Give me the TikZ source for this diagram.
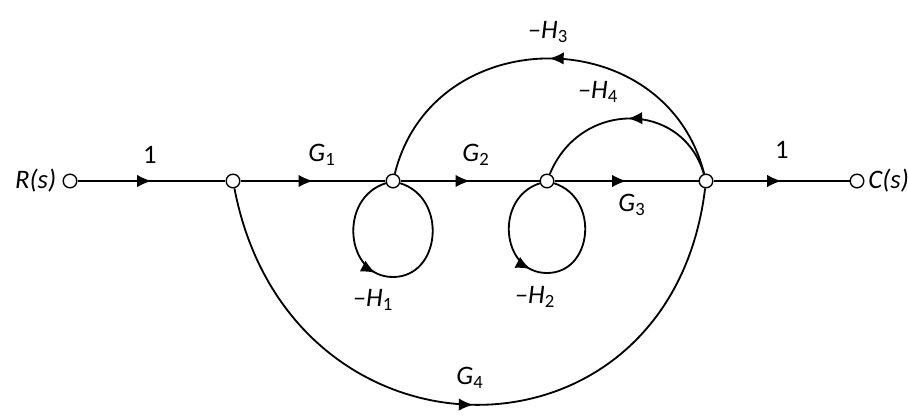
\documentclass[tikz,border=0pt]{standalone}
\usepackage{fontspec}
\setmainfont{Carlito}
\usetikzlibrary{positioning, arrows.meta, decorations.markings}

\newcommand{\gn}[2]{#1\textsubscript{\upshape #2}}

\begin{document}
\begin{tikzpicture}[x=0.025cm, y=-0.025cm, line width=1.3pt, node distance=1mm,
  flowtip/.tip={Latex[length=3.6mm,width=3.1mm]},
  pt/.style={draw,circle,fill=white,inner sep=0pt,minimum size=3.4mm,line width=1pt},
  gain/.style={font=\fontsize{19}{22}\selectfont\itshape,inner sep=1pt},
  mid/.style={postaction={decorate},decoration={markings,mark=at position #1 with {\arrow{flowtip}}}},
  mid/.default=0.5]
  \useasboundingbox (0,0) rectangle (908,415);
  % nodes of the graph
  \node[pt] (rin) at (70,181) {};
  \node[pt] (n1) at (233,181) {};
  \node[pt] (n2) at (393,181) {};
  \node[pt] (n3) at (547,181) {};
  \node[pt] (n4) at (706,181) {};
  \node[pt] (cout) at (857,181) {};
  \node[gain, left=of rin] (rs) {R(s)};
  \node[gain, right=0.4mm of cout] (cs) {C(s)};
  \coordinate (b2) at (393,277);
  \coordinate (b3) at (547,273);
  % forward path
  \draw[mid] (rin) -- (n1);
  \draw[mid] (n1) -- (n2);
  \draw[mid] (n2) -- (n3);
  \draw[mid] (n3) -- (n4);
  \draw[mid] (n4) -- (cout);
  % feedback and feedforward
  \draw[mid] (n4) .. controls (665,20) and (433,20) .. (n2);
  \draw[mid] (n4) .. controls (682,100) and (580,100) .. (n3);
  \draw[mid] (n1) .. controls (290,477) and (670,477) .. (n4);
  % self loops
  \draw[mid=0.43] (n2) .. controls (338,198) and (345,277) .. (b2)
    .. controls (441,277) and (448,198) .. (n2);
  \draw[mid=0.43] (n3) .. controls (494,198) and (501,273) .. (b3)
    .. controls (593,273) and (600,198) .. (n3);
  % gains
  \node[gain] (g01) at (150,155) {\upshape 1};
  \node[gain] (g1) at (322,155) {\gn{G}{1}};
  \node[gain] (g2) at (476,155) {\gn{G}{2}};
  \node[gain] (g3) at (632,205) {\gn{G}{3}};
  \node[gain] (g02) at (782,150) {\upshape 1};
  \node[gain] (h1) at (373,300) {--\gn{H}{1}};
  \node[gain] (h2) at (535,297) {--\gn{H}{2}};
  \node[gain] (h3) at (548,32) {--\gn{H}{3}};
  \node[gain] (h4) at (598,92) {--\gn{H}{4}};
  \node[gain] (g4) at (470,378) {\gn{G}{4}};
\end{tikzpicture}
\end{document}
